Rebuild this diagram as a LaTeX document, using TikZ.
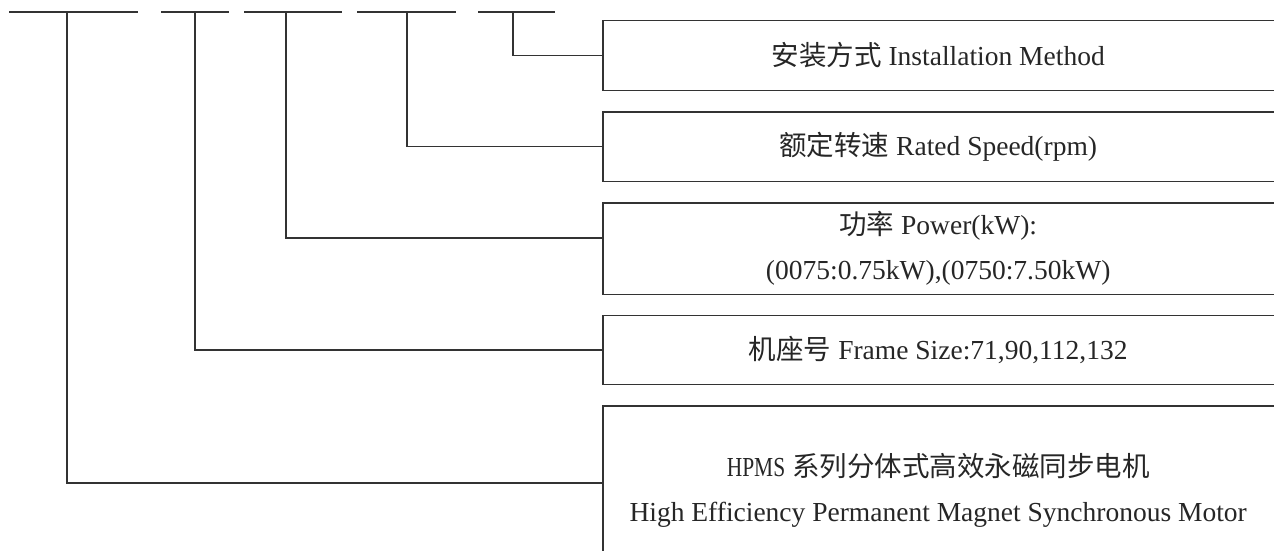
\documentclass[tikz,border=0pt]{standalone}
\usepackage{fontspec}
\setmainfont{Liberation Serif}
\newfontfamily\cjk{Noto Sans CJK SC}
\begin{document}
\begin{tikzpicture}[x=1pt,y=-1pt,
  ln/.style={draw=black!80, line width=1.4pt},
  box/.style={minimum width=670pt, minimum height=69pt, inner sep=0pt, anchor=west,
    align=center, font=\fontsize{27.5}{45}\selectfont, text=black!85},
]
\useasboundingbox (0,0) rectangle (1274,551);
\clip (0,0) rectangle (1274,551);
% code dashes
\coordinate (a1) at (9,12);   \coordinate (e1) at (138,12); \coordinate (t1) at (67,12);
\coordinate (a2) at (161,12); \coordinate (e2) at (229,12); \coordinate (t2) at (195,12);
\coordinate (a3) at (244,12); \coordinate (e3) at (342,12); \coordinate (t3) at (286,12);
\coordinate (a4) at (357,12); \coordinate (e4) at (456,12); \coordinate (t4) at (407,12);
\coordinate (a5) at (478,12); \coordinate (e5) at (555,12); \coordinate (t5) at (513,12);
\foreach \i in {1,...,5} {\draw[ln] (a\i) -- (e\i);}
% boxes
\node[box] (b1) at (603,55.5) {{\cjk 安装方式} Installation Method};
\node[box] (b2) at (603,146.5) {{\cjk 额定转速} Rated Speed(rpm)};
\node[box, minimum height=91pt] (b3) at (603,248.5) {{\cjk 功率} Power(kW):\\(0075:0.75kW),(0750:7.50kW)};
\node[box] (b4) at (603,350) {{\cjk 机座号} Frame Size:71,90,112,132};
\node[box, minimum height=168pt] (b5) at (603,490) {\scalebox{0.78}[1]{HPMS} {\cjk 系列分体式高效永磁同步电机}\\High Efficiency Permanent Magnet Synchronous Motor};
\foreach \b in {b1,b2,b3,b4,b5} {
  \draw[ln] ([xshift=10pt]\b.north east) -- (\b.north west) -- (\b.south west) -- ([xshift=10pt]\b.south east);
}
% connectors
\draw[ln] (t5) |- (b1.west);
\draw[ln] (t4) |- (b2.west);
\draw[ln] (t3) |- ([yshift=10.5pt]b3.west);
\draw[ln] (t2) |- (b4.west);
\draw[ln] (t1) |- ([yshift=7pt]b5.west);
\end{tikzpicture}
\end{document}
